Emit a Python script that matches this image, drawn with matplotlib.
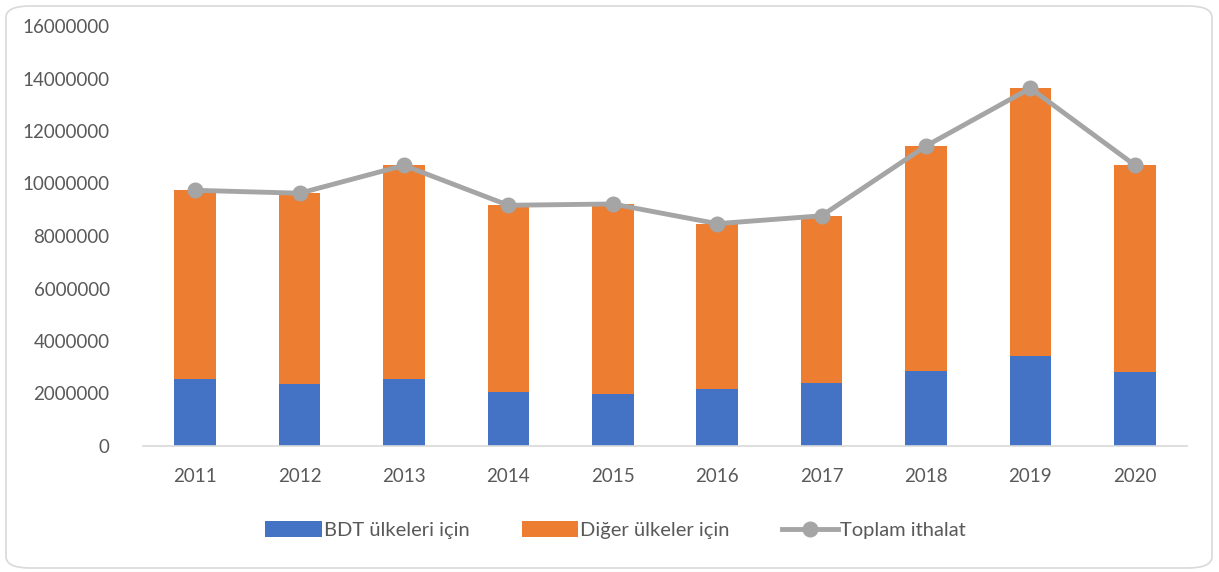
import numpy as np
import matplotlib.pyplot as plt
from matplotlib.patches import FancyBboxPatch

years = ["2011", "2012", "2013", "2014", "2015", "2016", "2017", "2018", "2019", "2020"]
bdt = [2550000, 2370000, 2550000, 2070000, 1970000, 2160000, 2400000, 2860000, 3440000, 2810000]
toplam = [9740000, 9630000, 10690000, 9170000, 9220000, 8470000, 8770000, 11430000, 13630000, 10700000]
diger = [t - b for t, b in zip(toplam, bdt)]

plt.rcParams['font.family'] = ['Lato', 'DejaVu Sans']
text_color = '#595959'

fig = plt.figure(figsize=(12.19, 5.72), dpi=100)
ax = fig.add_axes([143 / 1219, 1 - 446 / 572, 1044 / 1219, 420 / 572])

x = np.arange(len(years))
b1 = ax.bar(x, bdt, width=0.4, color='#4472C4', label='BDT ülkeleri için', zorder=2)
b2 = ax.bar(x, diger, width=0.4, bottom=bdt, color='#ED7D31', label='Diğer ülkeler için', zorder=2)
l1, = ax.plot(x, toplam, color='#A5A5A5', linewidth=3.5, marker='o', markersize=10.5,
              label='Toplam ithalat', zorder=3)

ax.set_xlim(-0.5, len(years) - 0.5)
ax.set_ylim(0, 16000000)
ax.set_yticks(np.arange(0, 16000001, 2000000))
ax.set_yticklabels([str(v) for v in range(0, 16000001, 2000000)])
ax.set_xticks(x)
ax.set_xticklabels(years)
ax.tick_params(axis='both', length=0, labelsize=13.5, colors=text_color)
ax.tick_params(axis='x', pad=16)
ax.tick_params(axis='y', pad=24)
for side in ['top', 'right', 'left']:
    ax.spines[side].set_visible(False)
ax.spines['bottom'].set_color('#D9D9D9')
ax.spines['bottom'].set_linewidth(1.2)

leg = fig.legend(handles=[b1, b2, l1], loc='center', bbox_to_anchor=(0.505, 1 - 530 / 572), ncol=3,
                 frameon=False, fontsize=14.5, handlelength=2.8, handleheight=0.85,
                 handletextpad=0.1, columnspacing=2.6)
for t in leg.get_texts():
    t.set_color(text_color)

border = FancyBboxPatch((6 / 1219, 4 / 572), 1206 / 1219, 562 / 572,
                        boxstyle='round,pad=0,rounding_size=0.02',
                        transform=fig.transFigure, facecolor='none',
                        edgecolor='#D9D9D9', linewidth=1.2)
fig.patches.append(border)

fig.savefig('out.png', dpi=100)
